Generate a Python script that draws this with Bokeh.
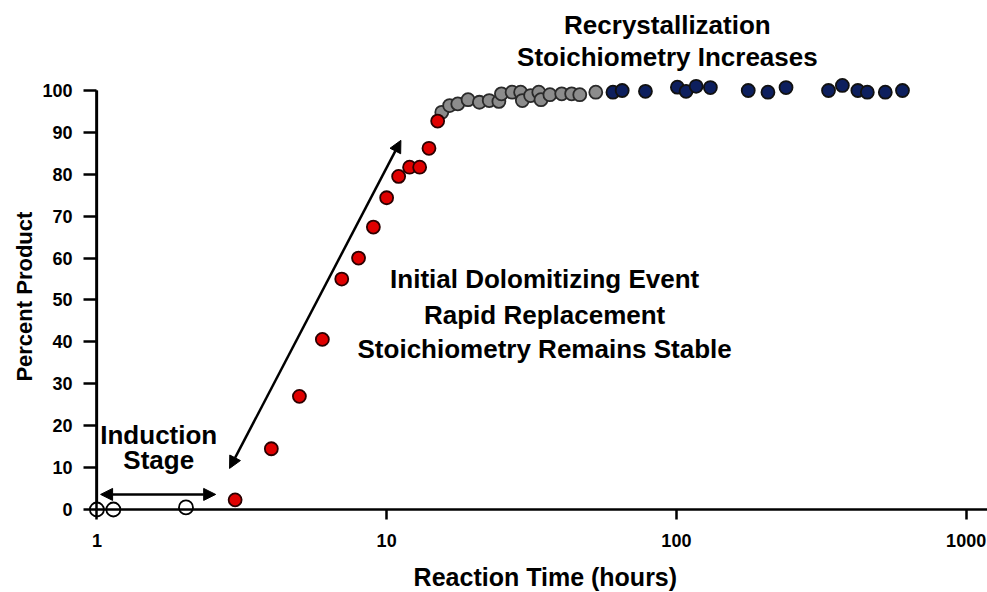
import math
from bokeh.plotting import figure
from bokeh.models import Arrow, NormalHead, Label, FixedTicker
from bokeh.embed import file_html
from bokeh.resources import INLINE

# ---- data ----
induction_x = [1.0, 1.14, 2.03]
induction_y = [0.0, 0.0, 0.5]

rapid_x = [3, 4, 5, 6, 7, 8, 9, 10, 11, 12, 13, 14, 15]
rapid_y = [2.3, 14.5, 27.0, 40.6, 55.0, 60.0, 67.4, 74.4, 79.5, 81.7, 81.7, 86.2, 92.7]

plateau_x = [15.5, 16.5, 17.6, 19.1, 20.9, 22.6, 24.4, 24.9, 27.1, 29.0, 29.4,
             31.4, 33.5, 34.1, 36.6, 40.2, 43.5, 46.4, 52.7]
plateau_y = [94.8, 96.4, 96.8, 97.8, 97.2, 97.6, 97.4, 99.2, 99.6, 99.6, 97.6,
             98.8, 99.6, 97.8, 99.0, 99.2, 99.2, 99.0, 99.6]

recryst_x = [60.4, 65.0, 78.2, 100.8, 108, 117, 131, 177, 207, 239, 335, 374,
             423, 456, 526, 603]
recryst_y = [99.6, 100.0, 99.8, 100.8, 99.8, 101.0, 100.7, 100.0, 99.6, 100.7,
             100.0, 101.2, 100.0, 99.6, 99.6, 100.0]

x_ticks = [1, 10, 100, 1000]
x_tick_labels = ["1", "10", "100", "1000"]
y_ticks = [0, 10, 20, 30, 40, 50, 60, 70, 80, 90, 100]

# the frame covers the whole canvas; axes cross at (1, 0)
X_MIN, X_MAX = 0.4649, 1185
Y_MIN, Y_MAX = -19.81, 121.48
X_ORIGIN, Y_ORIGIN = 1, 0

# positions of the text that sits around the axes (data units)
Y_TICK_LABEL_X = 0.8236
X_TICK_LABEL_Y = -7.4
Y_TITLE_POS = (0.5625, 50.8)
X_TITLE_POS = (35.3, -16.2)

FONT = "Liberation Sans"
AX_W = 2.5

p = figure(width=987, height=592, x_axis_type="log",
           x_range=(X_MIN, X_MAX), y_range=(Y_MIN, Y_MAX),
           output_backend="svg", toolbar_location=None, min_border=0)
p.title.visible = False
p.outline_line_color = None
p.grid.visible = False
p.background_fill_color = "white"
p.border_fill_color = "white"

# ---- axis lines and ticks, fixed at the crossing point ----
p.xaxis.fixed_location = Y_ORIGIN
p.yaxis.fixed_location = X_ORIGIN
p.xaxis.bounds = (X_ORIGIN, X_MAX)
p.yaxis.bounds = (y_ticks[0], y_ticks[-1])
p.xaxis.ticker = FixedTicker(ticks=x_ticks, minor_ticks=[])
p.yaxis.ticker = FixedTicker(ticks=y_ticks, minor_ticks=[])
for ax in (p.xaxis, p.yaxis):
    ax.axis_line_width = AX_W
    ax.axis_line_color = "black"
    ax.major_tick_line_width = AX_W
    ax.major_tick_line_color = "black"
    ax.major_tick_in = 0
    ax.minor_tick_in = 0
    ax.minor_tick_out = 0
    ax.major_label_text_color = None
    ax.major_label_text_font_size = "1px"
    ax.major_label_standoff = 0
p.xaxis.major_tick_out = 10
p.yaxis.major_tick_out = 13

# backup drawing of the y axis line
p.line([X_ORIGIN, X_ORIGIN], [y_ticks[0], y_ticks[-1]], line_width=AX_W, line_color="black")

# ---- points ----
p.scatter(plateau_x, plateau_y, size=13, fill_color="#8c8c8c", line_color="#2a2a2a", line_width=1.8)
p.scatter(recryst_x, recryst_y, size=13, fill_color="#0d1f5e", line_color="#111111", line_width=1.8)
p.scatter(rapid_x, rapid_y, size=13, fill_color="#e00000", line_color="#2a0000", line_width=1.8)
p.scatter(induction_x, induction_y, size=14, fill_color="white", line_color="black", line_width=1.8)

# ---- arrows ----
def head():
    return NormalHead(size=12, fill_color="black", line_color="black", line_width=1)

p.add_layout(Arrow(start=head(), end=head(), x_start=2.87, y_start=9.8,
                   x_end=11.2, y_end=88.1, line_width=2.5, line_color="black"))
p.add_layout(Arrow(start=head(), end=head(), x_start=1.03, y_start=3.6,
                   x_end=2.57, y_end=3.6, line_width=2.5, line_color="black"))

# ---- texts (y = visual centre of the text) ----
def lab(x, y, t, size="26px", align="center", angle=0.0):
    p.add_layout(Label(x=x, y=y, text=t, text_align=align, text_baseline="alphabetic",
                       angle=angle, text_font=FONT, text_font_style="bold",
                       text_font_size=size, text_color="black"))

for t in y_ticks:
    lab(Y_TICK_LABEL_X, t, str(t), "18px", "right")
for t, s in zip(x_ticks, x_tick_labels):
    lab(t, X_TICK_LABEL_Y, s, "18px")

lab(Y_TITLE_POS[0], Y_TITLE_POS[1], "Percent Product", "22px", "center", math.pi / 2)
lab(X_TITLE_POS[0], X_TITLE_POS[1], "Reaction Time (hours)", "25px")

lab(93.1, 115.75, "Recrystallization")
lab(93.1, 108.1, "Stoichiometry Increases")
lab(35.1, 54.9, "Initial Dolomitizing Event")
lab(35.1, 46.5, "Rapid Replacement")
lab(35.1, 38.2, "Stoichiometry Remains Stable")
lab(1.635, 17.7, "Induction")
lab(1.635, 11.7, "Stage")

open("out.html", "w").write(file_html(p, INLINE))
